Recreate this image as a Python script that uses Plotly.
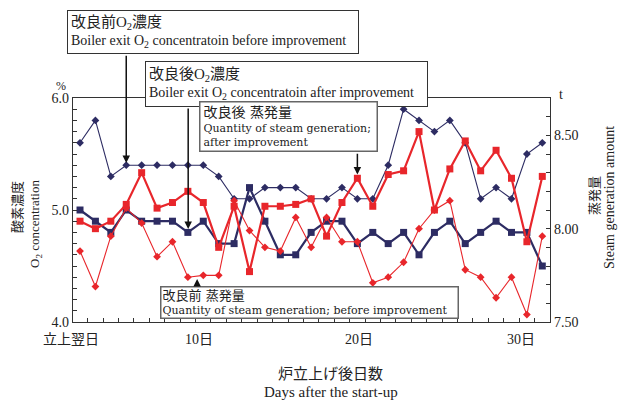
import plotly.graph_objects as go

# Day index after start-up (1 = the day after start-up)
days = list(range(1, 32))

# Boiler exit O2 concentration (%)
o2_before = [5.60, 5.80, 5.30, 5.40, 5.40, 5.40, 5.40, 5.40, 5.40, 5.30,
             5.10, 5.10, 5.20, 5.20, 5.20, 5.10, 5.10, 5.20, 5.10, 5.10,
             5.40, 5.90, 5.80, 5.70, 5.80, 5.60, 5.10, 5.20, 5.10, 5.50, 5.60]
o2_after = [5.00, 4.90, 4.80, 5.00, 4.90, 4.90, 4.90, 4.80, 4.90, 4.70,
            4.70, 5.20, 4.90, 4.60, 4.60, 4.80, 4.90, 4.90, 4.70, 4.80,
            4.70, 4.80, 4.60, 4.80, 4.90, 4.70, 4.80, 4.90, 4.80, 4.80, 4.50]

# Quantity of steam generation (t)
steam_after = [8.04, 8.00, 8.04, 8.13, 8.30, 8.11, 8.14, 8.20, 8.14, 7.90,
               8.12, 7.77, 8.12, 8.12, 8.13, 8.16, 7.96, 8.14, 8.27, 8.12,
               8.29, 8.31, 8.52, 8.10, 8.32, 8.47, 8.31, 8.42, 8.27, 7.93, 8.28]
steam_before = [7.88, 7.69, 7.96, 8.11, 8.03, 7.85, 7.93, 7.74, 7.75, 7.75,
                8.15, 7.99, 7.90, 7.88, 8.06, 7.90, 8.06, 7.93, 7.93, 7.71,
                7.74, 7.82, 8.00, 8.10, 8.15, 7.78, 7.74, 7.63, 7.74, 7.54, 7.96]

# Axis labels (horizontal pixel centres of the day labels)
x_labels = ["立上翌日", "10日", "20日", "30日"]
x_label_px = [71, 199, 359, 521]
left_ticks = [round(4.0 + 0.1 * i, 1) for i in range(21)]
right_ticks = [round(7.5 + 0.1 * i, 2) for i in range(13)]

NAVY = "#2d2c63"
RED = "#e8262b"
SERIF = "Liberation Serif, Noto Sans CJK JP, serif"
SERIF2 = "DejaVu Serif, Noto Sans CJK JP, serif"

# plot area in pixels
L, R, T, B = 73, 550, 98, 322
W_PX, H_PX = 625, 401


def px(xp):
    return (xp - L) / (R - L)


def py(yp):
    return (B - yp) / (B - T)


def label(xp, yp, text, size, angle=0):
    return dict(x=px(xp), y=py(yp), xref="paper", yref="paper", text=text,
                showarrow=False, xanchor="center", yanchor="middle",
                textangle=angle, font=dict(family=SERIF, size=size, color="#222"))


fig = go.Figure()
fig.add_trace(go.Scatter(x=days, y=o2_before, mode="lines+markers",
                         line=dict(color=NAVY, width=1.1),
                         marker=dict(symbol="diamond", size=6, color=NAVY),
                         yaxis="y"))
fig.add_trace(go.Scatter(x=days, y=o2_after, mode="lines+markers",
                         line=dict(color=NAVY, width=2.2),
                         marker=dict(symbol="square", size=7, color=NAVY),
                         yaxis="y"))
fig.add_trace(go.Scatter(x=days, y=steam_before, mode="lines+markers",
                         line=dict(color=RED, width=1.1),
                         marker=dict(symbol="diamond", size=6, color=RED),
                         yaxis="y2"))
fig.add_trace(go.Scatter(x=days, y=steam_after, mode="lines+markers",
                         line=dict(color=RED, width=2.2),
                         marker=dict(symbol="square", size=7, color=RED),
                         yaxis="y2"))

annotations = []

# x tick labels
for lab, xp in zip(x_labels, x_label_px):
    annotations.append(label(xp, 339, lab, 14))

# axis titles and units
annotations += [
    label(330, 374, "炉立上げ後日数", 15),
    label(331, 392, "Days after the start-up", 15),
    label(17, 207, "酸素濃度", 13, -90),
    label(35, 224, "O<sub>2</sub> concentration", 13, -90),
    label(594, 196, "蒸発量", 13, -90),
    label(609, 198, "Steam generation amount", 14, -90),
    label(61, 86, "%", 12),
    label(561, 94, "t", 14),
]


def box(left, top, w, h, text, font, bw, bcol, size, pad=3):
    return dict(x=px(left), y=py(top), xref="paper", yref="paper",
                xanchor="left", yanchor="top", align="left", valign="middle",
                text=text, showarrow=False, bgcolor="white",
                bordercolor=bcol, borderwidth=bw, borderpad=pad,
                width=w - 2 * (bw + pad), height=h - 2 * (bw + pad),
                font=dict(family=font, size=size, color="#222"))


annotations += [
    box(67, 10, 292, 44,
        "<span style='font-size:15px'>改良前O<sub>2</sub>濃度</span><br>"
        "Boiler exit O<sub>2</sub> concentratoin before improvement",
        SERIF, 1, "#333", 14),
    box(145, 61, 283, 46,
        "<span style='font-size:15px'>改良後O<sub>2</sub>濃度</span><br>"
        "Boiler exit O<sub>2</sub> concentratoin after improvement",
        SERIF, 1, "#333", 14),
    box(199, 101, 179, 51,
        "<span style='font-size:14px'>改良後 蒸発量</span><br>"
        "Quantity of steam generation;<br>after improvement",
        SERIF2, 1.5, "#666", 11),
    box(160, 286, 299, 33,
        "<span style='font-size:13px'>改良前 蒸発量</span><br>"
        "Quantity of steam generation; before improvement",
        SERIF2, 1.5, "#666", 11, pad=1),
]

# pointer arrows from the boxes to the series
arrow = dict(showarrow=True, arrowhead=2, arrowsize=1, arrowwidth=1.5,
             arrowcolor="#111", text="", standoff=0)
annotations += [
    dict(arrow, x=4, y=5.42, xref="x", yref="y", ax=4, ay=6.39, axref="x", ayref="y"),
    dict(arrow, x=8.02, y=4.83, xref="x", yref="y", ax=8.02, ay=5.92, axref="x", ayref="y"),
    dict(arrow, x=19.0, y=8.29, xref="x", yref="y2", ax=19.0, ay=8.41, axref="x", ayref="y2"),
    dict(arrow, x=8.6, y=7.73, xref="x", yref="y2", ax=8.6, ay=7.69, axref="x", ayref="y2"),
]

fig.update_layout(
    width=W_PX, height=H_PX,
    margin=dict(l=L, r=W_PX - R, t=T, b=H_PX - B),
    paper_bgcolor="white", plot_bgcolor="white",
    showlegend=False,
    font=dict(family=SERIF, color="#222"),
    xaxis=dict(range=[0.545, 31.5], showgrid=False, zeroline=False,
               showline=True, linecolor="#333", linewidth=1.2, mirror=True,
               ticks="inside", ticklen=4, tickcolor="#333",
               tickvals=[d + 0.5 for d in range(1, 31)], showticklabels=False),
    yaxis=dict(range=[4.0, 6.0], showgrid=False, zeroline=False,
               showline=True, linecolor="#333", linewidth=1.2,
               ticks="inside", ticklen=4, tickcolor="#333",
               tickvals=left_ticks,
               ticktext=[f"{v:.1f}" if abs(v - round(v)) < 1e-6 else "" for v in left_ticks],
               tickfont=dict(family=SERIF, size=14, color="#222")),
    yaxis2=dict(range=[7.5, 8.7], overlaying="y", side="right",
                showgrid=False, zeroline=False,
                showline=True, linecolor="#333", linewidth=1.2,
                ticks="inside", ticklen=4, tickcolor="#333",
                tickvals=right_ticks,
                ticktext=[f"{v:.2f}" if abs(v * 2 - round(v * 2)) < 1e-6 else "" for v in right_ticks],
                tickfont=dict(family=SERIF, size=14, color="#222")),
    annotations=annotations,
)

fig.write_html("out.html")
